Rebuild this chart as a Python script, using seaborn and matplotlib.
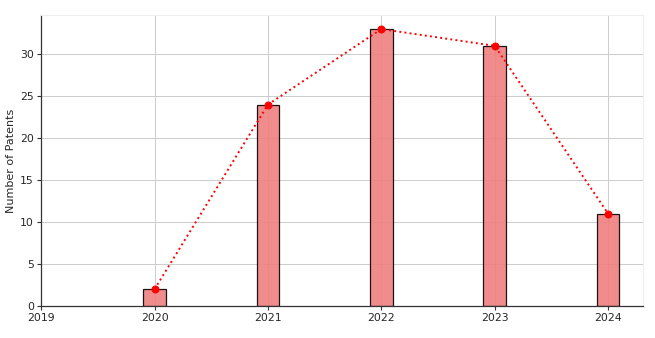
import matplotlib
matplotlib.use("Agg")
import matplotlib.pyplot as plt
import seaborn as sns
import pandas as pd

years = [2020, 2021, 2022, 2023, 2024]
patents = [2, 24, 33, 31, 11]

sns.set_style("whitegrid")
plt.rcParams['font.family'] = ['DejaVu Sans']

fig, ax = plt.subplots(figsize=(6.55, 3.38), dpi=100)
ax.bar(years, patents, width=0.2, color="lightcoral", edgecolor="black", alpha=0.9, linewidth=0.9)
sns.lineplot(x=years, y=patents, ax=ax, color="red", linestyle=":", marker="o",
             markersize=5, markeredgecolor="red", linewidth=1.4)
ax.set_xlim(left=2019)
ax.set_ylabel("Number of Patents", fontsize=8, labelpad=3)
ax.set_xlabel("")
ax.tick_params(axis="both", labelsize=7.8, length=3, pad=2.4, color="#333333", left=True, bottom=True)
for s in ["left", "bottom"]:
    ax.spines[s].set_color("#333333")
    ax.spines[s].set_linewidth(0.9)
for s in ["top", "right"]:
    ax.spines[s].set_color("#eeeeee")
ax.grid(True, color="#cccccc", linewidth=0.7)
fig.subplots_adjust(left=0.063, right=0.982, bottom=0.095, top=0.955)
fig.savefig("out.png", dpi=100)
